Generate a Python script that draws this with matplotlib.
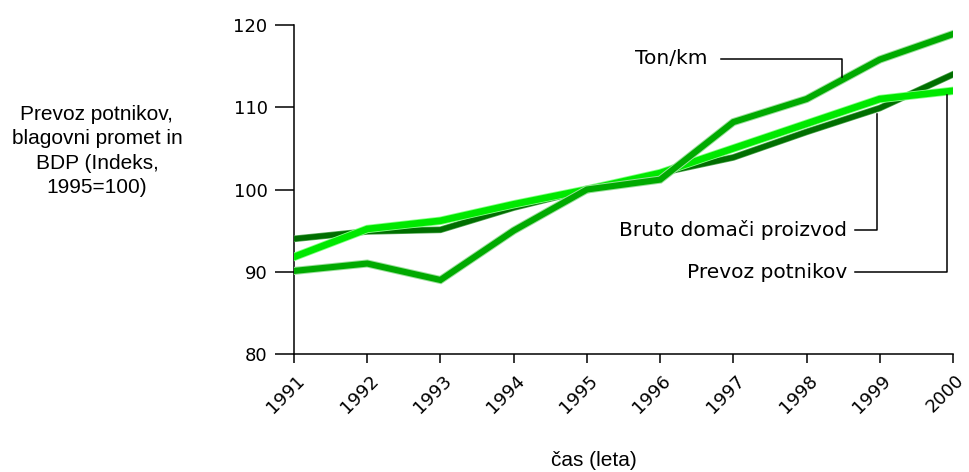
import matplotlib
matplotlib.use("Agg")
import matplotlib.pyplot as plt
import matplotlib.patheffects as pe
from matplotlib.transforms import ScaledTranslation

# data (index, 1995 = 100)
years = [1991, 1992, 1993, 1994, 1995, 1996, 1997, 1998, 1999, 2000]
bdp = [94.0, 94.9, 95.1, 97.8, 100.0, 102.0, 103.9, 107.0, 109.9, 114.0]
potniki = [91.8, 95.2, 96.2, 98.2, 100.0, 102.0, 105.0, 108.0, 111.0, 112.0]
ton_km = [90.1, 91.0, 89.0, 95.0, 100.0, 101.2, 108.2, 111.0, 115.8, 118.9]
yticks = [80, 90, 100, 110, 120]

fig = plt.figure(figsize=(9.69, 4.72), dpi=100)
ax = fig.add_axes([0.3034, 0.25, 0.6801, 0.697])

ax.plot(years, bdp, color="#006e00", lw=3.8, solid_joinstyle="miter", zorder=3,
        path_effects=[pe.Stroke(linewidth=4.8, foreground="#55aa55"), pe.Normal()])
ax.plot(years, potniki, color="#00e800", lw=4.8, solid_joinstyle="miter", zorder=4,
        path_effects=[pe.Stroke(linewidth=6.0, foreground="#88ff88"), pe.Normal()])
ax.plot(years, ton_km, color="#00aa00", lw=4.4, solid_joinstyle="miter", zorder=5,
        path_effects=[pe.Stroke(linewidth=5.8, foreground="#9be09b"), pe.Normal()])

ax.set_xlim(1991, 2000)
ax.set_ylim(80, 120)
ax.spines[["top", "right"]].set_visible(False)
ax.spines[["left", "bottom"]].set_linewidth(1.1)

ax.set_yticks(yticks)
ax.set_xticks(years)
ax.set_xticklabels([str(y) for y in years], rotation=45, ha="center")
ax.tick_params(axis="y", length=14, width=1.1, pad=5, labelsize=13)
ax.tick_params(axis="x", length=6.5, width=1.1, pad=6, labelsize=13)
shift = ScaledTranslation(-8 / 100, 0, fig.dpi_scale_trans)
for lbl in ax.get_xticklabels():
    lbl.set_transform(lbl.get_transform() + shift)

# leader-line labels
lk = dict(color="black", lw=1.1, clip_on=False, zorder=6)
ax.plot([1996.83, 1998.49, 1998.49], [115.87, 115.87, 113.7], **lk)
ax.text(1996.65, 115.87, "Ton/km", ha="right", va="center", fontsize=14.5)
ax.plot([1998.66, 1998.96, 1998.96], [95.07, 95.07, 109.2], **lk)
ax.text(1998.55, 95.07, "Bruto domači proizvod", ha="right", va="center", fontsize=14.5)
ax.plot([1998.66, 1999.92, 1999.92], [89.97, 89.97, 111.5], **lk)
ax.text(1998.55, 89.97, "Prevoz potnikov", ha="right", va="center", fontsize=14.5)

fig.text(0.1, 0.68, "Prevoz potnikov,\nblagovni promet in\nBDP (Indeks,\n1995=100)",
         ha="center", va="center", fontsize=15, family="Liberation Sans", linespacing=1.35)
fig.text(0.613, 0.005, "čas (leta)", ha="center", va="bottom", fontsize=15,
         family="Liberation Sans")

fig.savefig("out.png", dpi=100)
